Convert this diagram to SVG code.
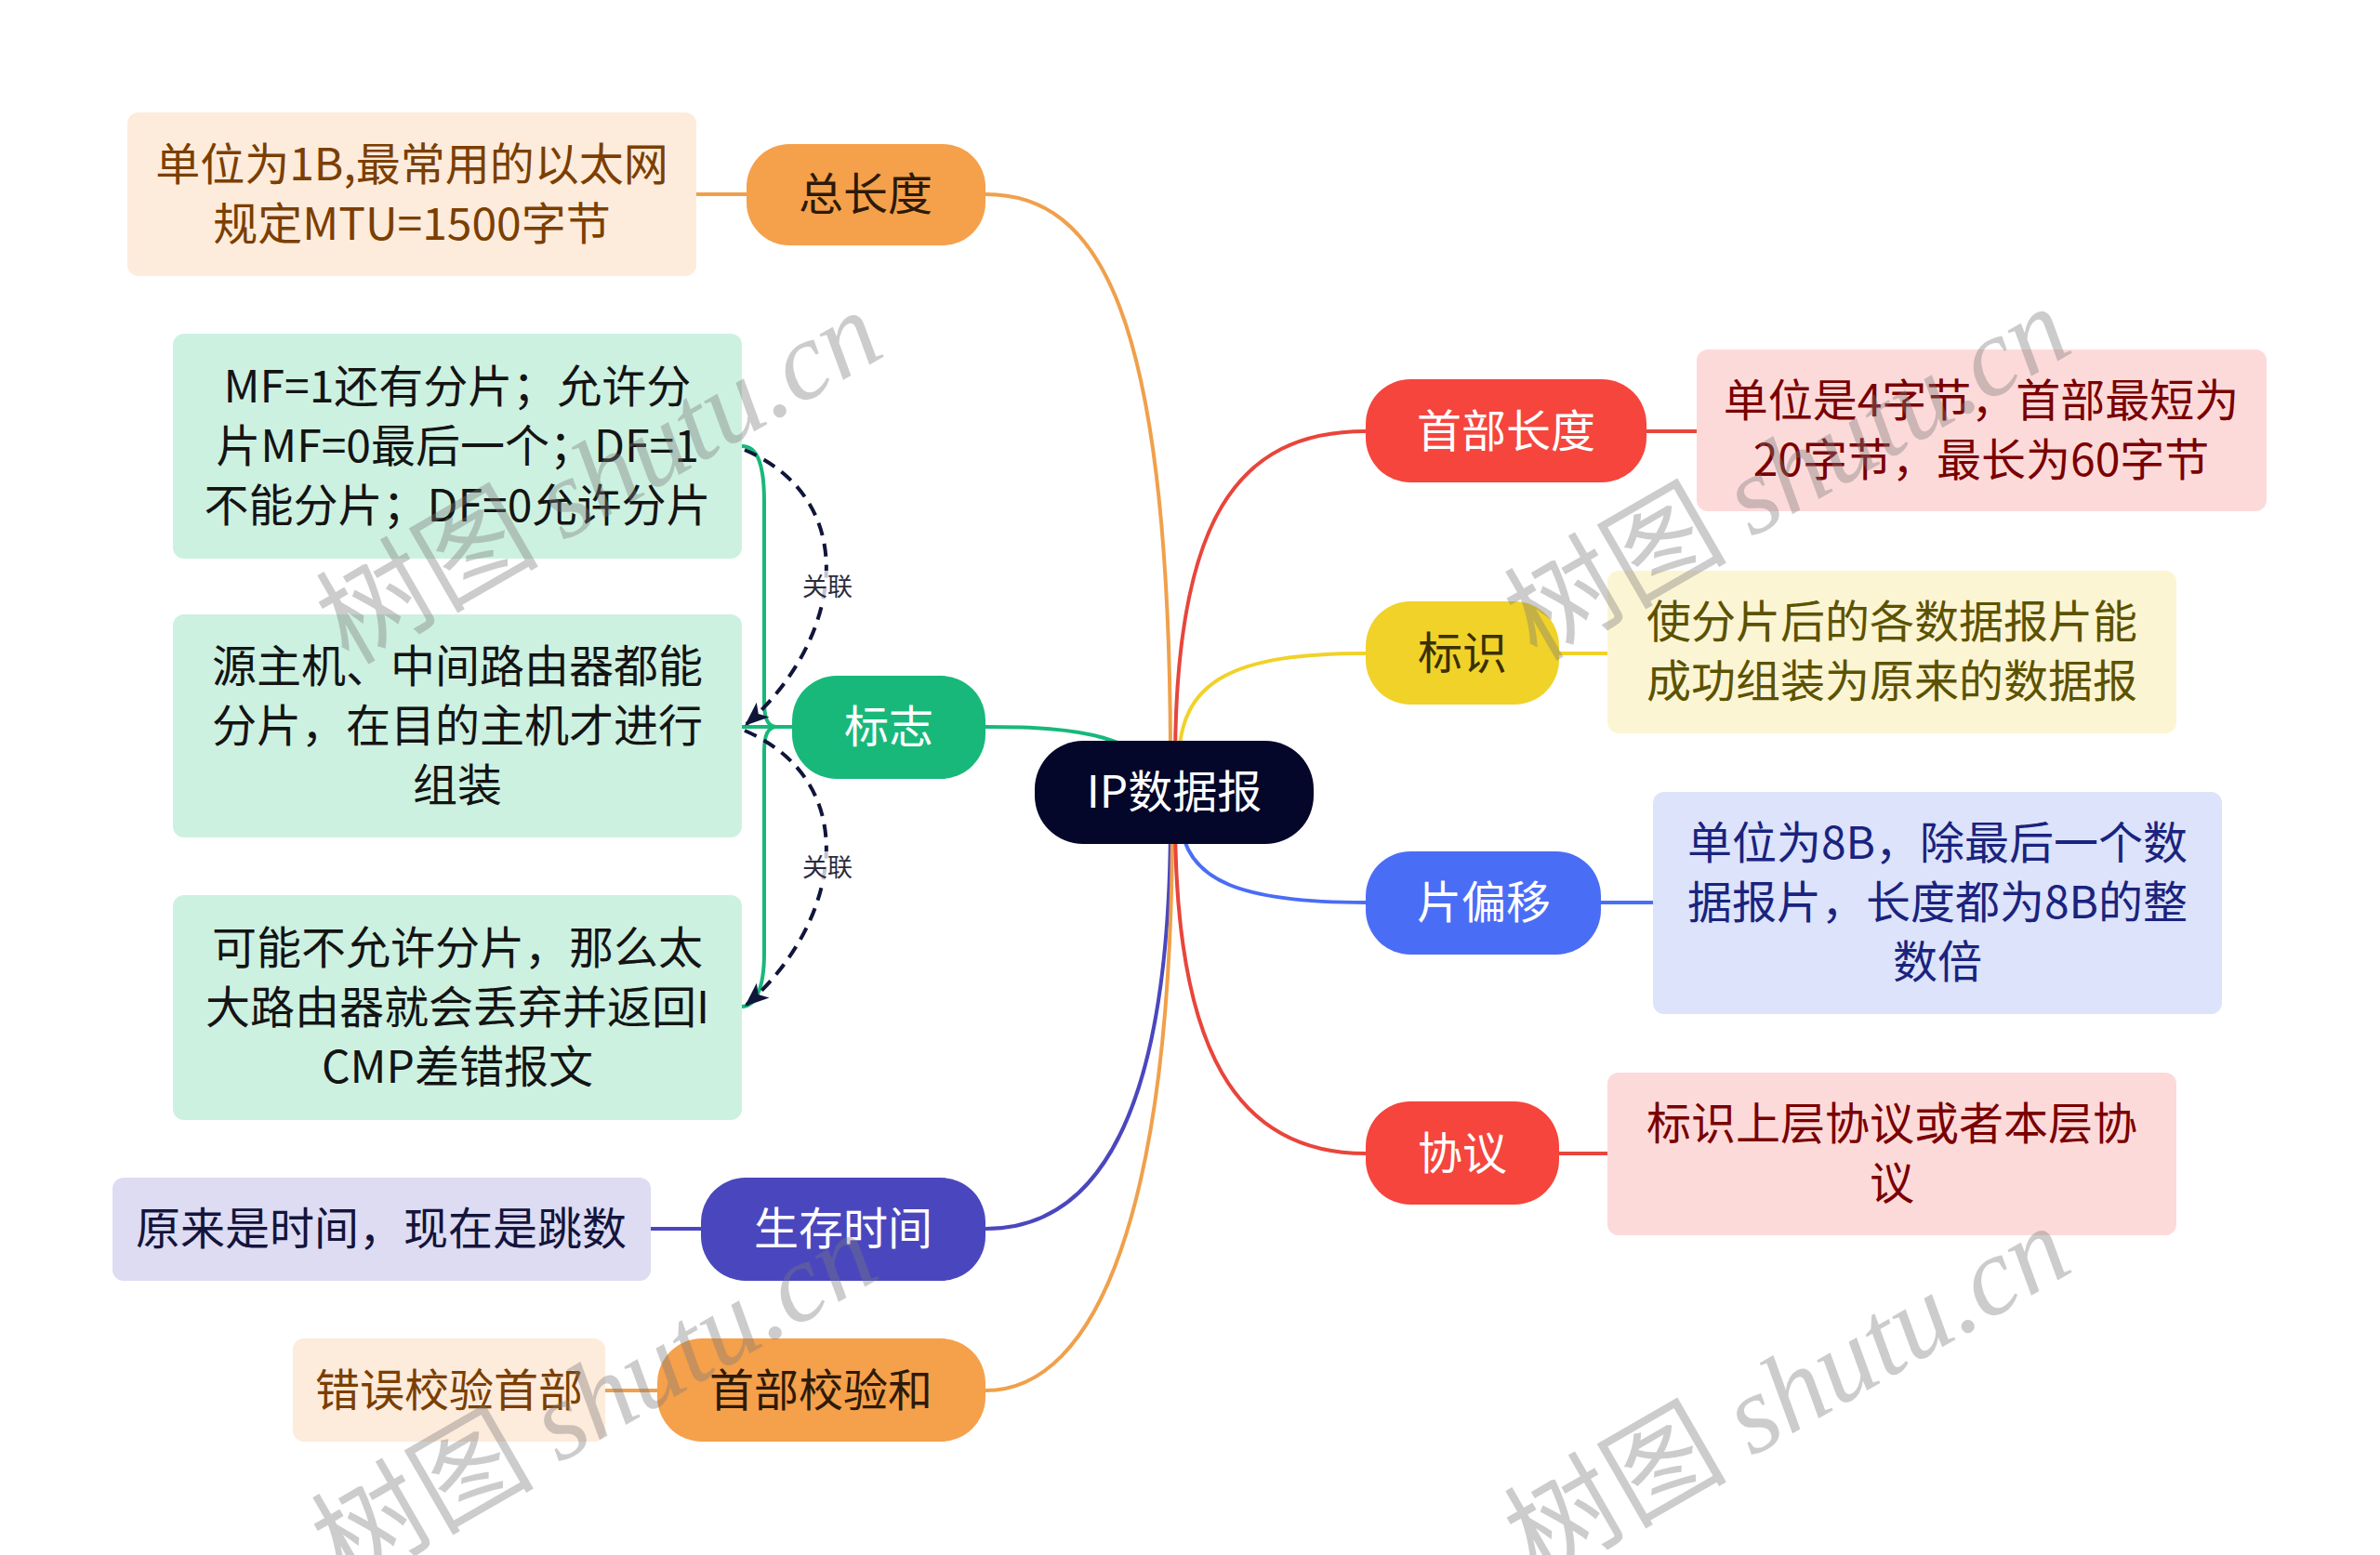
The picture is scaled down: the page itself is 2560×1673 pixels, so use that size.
<svg xmlns="http://www.w3.org/2000/svg" width="2560" height="1673" viewBox="0 0 2560 1673">
<defs>
<style>
text{font-family:"Noto Sans CJK SC","Liberation Sans",sans-serif;font-size:48px;text-anchor:middle;}
.conn{fill:none;stroke-width:4;stroke-linecap:round;}
.rel{fill:none;stroke:#10153a;stroke-width:4;stroke-dasharray:14 9;}
text.rl{font-size:27px;fill:#2a2c40;}
.wm text{font-size:120px;fill:#787878;fill-opacity:0.38;}
.wm .en{font-family:"Liberation Serif",serif;font-style:italic;}
</style>
<marker id="arr" viewBox="0 0 20 20" refX="18" refY="10" markerWidth="26" markerHeight="26" markerUnits="userSpaceOnUse" orient="auto">
<path d="M0,2 L20,10 L0,18 L5,10 Z" fill="#10153a"/>
</marker>
</defs>
<rect width="2560" height="1673" fill="#ffffff"/>

<g id="connectors">
<path class="conn" stroke="#f0a04b" d="M1060 209 C1180 209 1259 330 1259 820"/>
<path class="conn" stroke="#18b87b" d="M1060 782 C1160 782 1230 790 1263 852"/>
<path class="conn" stroke="#4a47be" d="M1060 1322 C1180 1322 1259 1200 1259 880"/>
<path class="conn" stroke="#f0a04b" d="M1060 1496 C1180 1496 1261 1300 1261 880"/>
<path class="conn" stroke="#e8453c" d="M1264 820 C1264 560 1330 464 1469 464"/>
<path class="conn" stroke="#f0d229" d="M1268 820 C1268 730 1330 703 1469 703"/>
<path class="conn" stroke="#4a6df6" d="M1270 880 C1272 950 1340 971 1469 971"/>
<path class="conn" stroke="#e8453c" d="M1264 880 C1264 1130 1330 1241 1469 1241"/>
<path class="conn" stroke="#f0a04b" d="M749 209 L803 209"/>
<path class="conn" stroke="#18b87b" d="M852 782 L798 782"/>
<path class="conn" stroke="#18b87b" d="M852 782 L836 782 C826 782 822 774 822 755 L822 540 C822 500 815 480 798 480"/>
<path class="conn" stroke="#18b87b" d="M852 782 L836 782 C826 782 822 790 822 809 L822 1025 C822 1065 812 1083 798 1083"/>
<path class="conn" stroke="#4a47be" d="M700 1322 L754 1322"/>
<path class="conn" stroke="#f0a04b" d="M651 1496 L707 1496"/>
<path class="conn" stroke="#e8453c" d="M1771 464 L1825 464"/>
<path class="conn" stroke="#f0d229" d="M1677 703 L1729 703"/>
<path class="conn" stroke="#4a6df6" d="M1722 971 L1778 971"/>
<path class="conn" stroke="#e8453c" d="M1677 1241 L1729 1241"/>
<path class="rel" d="M801 484 C930 540 905 690 803 779" marker-end="url(#arr)"/>
<path class="rel" d="M801 786 C930 842 905 992 803 1081" marker-end="url(#arr)"/>
<rect x="860" y="614" width="60" height="34" fill="#ffffff" fill-opacity="0.75"/>
<text class="rl" x="890" y="641">关联</text>
<rect x="860" y="916" width="60" height="34" fill="#ffffff" fill-opacity="0.75"/>
<text class="rl" x="890" y="943">关联</text>
</g>

<g id="center">
<rect x="1113" y="797" width="300" height="111" rx="52" fill="#04062a"/>
<text x="1263" y="869" fill="#ffffff">IP数据报</text>
</g>

<g id="zongchangdu">
<rect x="803" y="155" width="257" height="109" rx="46" fill="#f5a04b"/>
<text x="931" y="226" fill="#2d1a08">总长度</text>
</g>
<g id="zongchangdu-note">
<rect x="137" y="121" width="612" height="176" rx="12" fill="#fdebdc"/>
<text x="443" y="194" fill="#7b3f00">单位为1B,最常用的以太网</text>
<text x="443" y="258" fill="#7b3f00">规定MTU=1500字节</text>
</g>

<g id="biaozhi">
<rect x="852" y="727" width="208" height="111" rx="48" fill="#18b87b"/>
<text x="956" y="799" fill="#ffffff">标志</text>
</g>
<g id="biaozhi-a">
<rect x="186" y="359" width="612" height="242" rx="12" fill="#cdf1e1"/>
<text x="492" y="433" fill="#141414">MF=1还有分片；允许分</text>
<text x="492" y="497" fill="#141414">片MF=0最后一个；DF=1</text>
<text x="492" y="561" fill="#141414">不能分片；DF=0允许分片</text>
</g>
<g id="biaozhi-b">
<rect x="186" y="661" width="612" height="240" rx="12" fill="#cdf1e1"/>
<text x="492" y="734" fill="#141414">源主机、中间路由器都能</text>
<text x="492" y="798" fill="#141414">分片，在目的主机才进行</text>
<text x="492" y="862" fill="#141414">组装</text>
</g>
<g id="biaozhi-c">
<rect x="186" y="963" width="612" height="242" rx="12" fill="#cdf1e1"/>
<text x="492" y="1037" fill="#141414">可能不允许分片，那么太</text>
<text x="492" y="1101" fill="#141414">大路由器就会丢弃并返回I</text>
<text x="492" y="1165" fill="#141414">CMP差错报文</text>
</g>

<g id="shengcunshijian">
<rect x="754" y="1267" width="306" height="111" rx="48" fill="#4a47be"/>
<text x="907" y="1339" fill="#ffffff">生存时间</text>
</g>
<g id="shengcunshijian-note">
<rect x="121" y="1267" width="579" height="111" rx="12" fill="#dddcf2"/>
<text x="410" y="1339" fill="#14143c">原来是时间，现在是跳数</text>
</g>

<g id="shoubujiaoyanhe">
<rect x="707" y="1440" width="353" height="111" rx="48" fill="#f5a04b"/>
<text x="883" y="1513" fill="#2d1a08">首部校验和</text>
</g>
<g id="shoubujiaoyanhe-note">
<rect x="315" y="1440" width="336" height="111" rx="12" fill="#fdebdc"/>
<text x="483" y="1513" fill="#7b3f00">错误校验首部</text>
</g>

<g id="shoubuchangdu">
<rect x="1469" y="408" width="302" height="111" rx="48" fill="#f5453d"/>
<text x="1620" y="481" fill="#ffffff">首部长度</text>
</g>
<g id="shoubuchangdu-note">
<rect x="1825" y="376" width="613" height="174" rx="12" fill="#fddada"/>
<text x="2131" y="448" fill="#7a0000">单位是4字节，首部最短为</text>
<text x="2131" y="512" fill="#7a0000">20字节，最长为60字节</text>
</g>

<g id="biaoshi">
<rect x="1469" y="647" width="208" height="111" rx="48" fill="#f0d229"/>
<text x="1573" y="720" fill="#3a3000">标识</text>
</g>
<g id="biaoshi-note">
<rect x="1729" y="614" width="612" height="175" rx="12" fill="#fcf5d3"/>
<text x="2035" y="686" fill="#5c5200">使分片后的各数据报片能</text>
<text x="2035" y="750" fill="#5c5200">成功组装为原来的数据报</text>
</g>

<g id="pianpianyi">
<rect x="1469" y="916" width="253" height="111" rx="48" fill="#4a6df6"/>
<text x="1596" y="988" fill="#ffffff">片偏移</text>
</g>
<g id="pianpianyi-note">
<rect x="1778" y="852" width="612" height="239" rx="12" fill="#dce3fa"/>
<text x="2084" y="924" fill="#1a237e">单位为8B，除最后一个数</text>
<text x="2084" y="988" fill="#1a237e">据报片，长度都为8B的整</text>
<text x="2084" y="1052" fill="#1a237e">数倍</text>
</g>

<g id="xieyi">
<rect x="1469" y="1185" width="208" height="111" rx="48" fill="#f5453d"/>
<text x="1573" y="1258" fill="#ffffff">协议</text>
</g>
<g id="xieyi-note">
<rect x="1729" y="1154" width="612" height="175" rx="12" fill="#fddada"/>
<text x="2035" y="1226" fill="#7a0000">标识上层协议或者本层协</text>
<text x="2035" y="1290" fill="#7a0000">议</text>
</g>

<g id="watermarks" class="wm">
<text transform="rotate(-30 645 514)" x="645" y="554">树图 <tspan class="en">shutu.cn</tspan></text>
<text transform="rotate(-30 1923 510)" x="1923" y="550">树图 <tspan class="en">shutu.cn</tspan></text>
<text transform="rotate(-30 640 1506)" x="640" y="1546">树图 <tspan class="en">shutu.cn</tspan></text>
<text transform="rotate(-30 1923 1499)" x="1923" y="1539">树图 <tspan class="en">shutu.cn</tspan></text>
</g>
</svg>
